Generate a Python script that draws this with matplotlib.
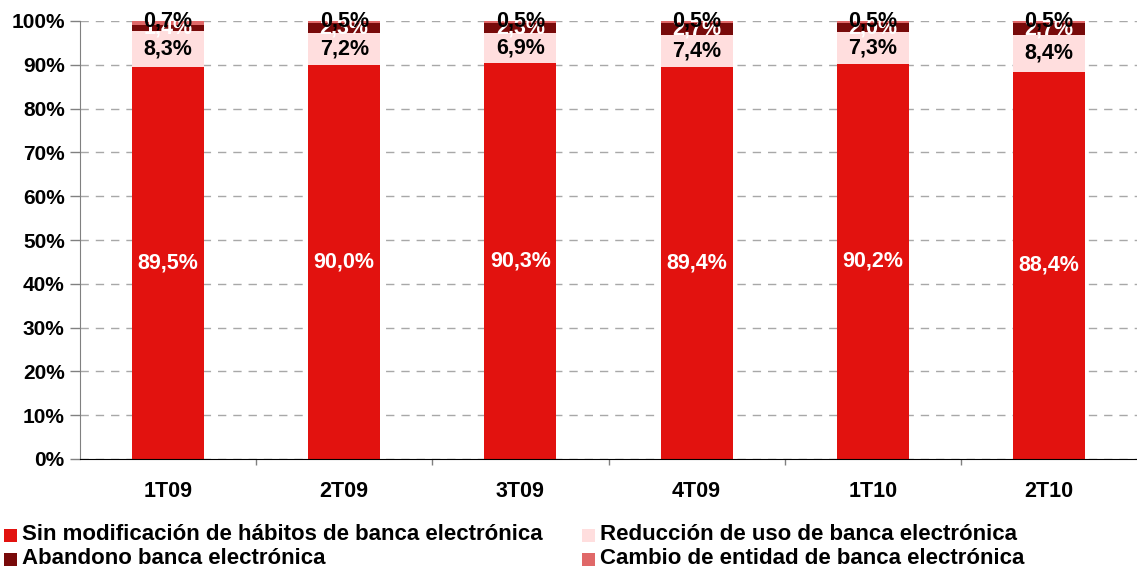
import matplotlib
matplotlib.use("Agg")
import matplotlib.pyplot as plt
from matplotlib.patches import Rectangle
import numpy as np

plt.rcParams['font.family'] = ['Liberation Sans', 'DejaVu Sans']
plt.rcParams['font.weight'] = 'bold'

# Quarterly survey periods
periods = ["1T09", "2T09", "3T09", "4T09", "1T10", "2T10"]

# Share of respondents (%) per behaviour, stacked bottom to top
sin_modificacion = [89.5, 90.0, 90.3, 89.4, 90.2, 88.4]
reduccion_uso = [8.3, 7.2, 6.9, 7.4, 7.3, 8.4]
abandono = [1.4, 2.3, 2.3, 2.7, 2.0, 2.7]
cambio_entidad = [0.7, 0.5, 0.5, 0.5, 0.5, 0.5]

series_names = [
    "Sin modificación de hábitos de banca electrónica",
    "Reducción de uso de banca electrónica",
    "Abandono banca electrónica",
    "Cambio de entidad de banca electrónica",
]
series_colors = ["#E2120F", "#FFDEDE", "#780A0A", "#E06868"]
label_colors = ["white", "black", "white", "black"]

W, H = 1137, 569
fig = plt.figure(figsize=(W / 100, H / 100), dpi=100)
ax = fig.add_axes([80 / W, (H - 459) / H, 1057 / W, 438 / H])

x = np.arange(len(periods))
series = [sin_modificacion, reduccion_uso, abandono, cambio_entidad]
bottom = np.zeros(len(periods))
bar_w = 72 / 176.25
containers = []
for vals, col in zip(series, series_colors):
    vals = np.array(vals)
    bc = ax.bar(x, vals, bar_w, bottom=bottom, color=col, zorder=3,
                linewidth=0)
    containers.append((bc, vals, bottom.copy()))
    bottom = bottom + vals

fmt = lambda v: f"{v:.1f}%".replace(".", ",")
fs = 15.5
# labels: first three centred in their segments, the thin top one at the 100% line
for i, (bc, vals, bot) in enumerate(containers[:3]):
    for xi, v, b in zip(x, vals, bot):
        ax.text(xi, b + v / 2, fmt(v), ha="center", va="center",
                color=label_colors[i], fontsize=fs, fontweight="bold", zorder=5)
bc, vals, bot = containers[3]
for xi, v, b in zip(x, vals, bot):
    ax.text(xi, b + v, fmt(v), ha="center", va="center",
            color="black", fontsize=fs, fontweight="bold", zorder=6)

ax.set_xlim(-0.5, len(periods) - 0.5)
ax.set_ylim(0, 100)
ax.set_yticks(np.arange(0, 101, 10))
ax.set_yticklabels([f"{v}%" for v in range(0, 101, 10)], fontsize=15,
                   fontweight="bold")
ax.yaxis.grid(True, color="#A8A8A8", linestyle=(0, (6, 5)), linewidth=1,
              zorder=1)
ax.tick_params(axis="y", direction="out", length=7, width=1, color="#808080",
               pad=4)

# category boundaries carry the ticks, category centres carry the labels
ax.set_xticks(np.arange(0.5, len(periods) - 0.5, 1))
ax.set_xticklabels([])
ax.set_xticks(x, minor=True)
ax.set_xticklabels(periods, minor=True, fontsize=fs, fontweight="bold")
ax.tick_params(axis="x", which="major", direction="out", length=4.5, width=1,
               color="#808080")
ax.tick_params(axis="x", which="minor", length=0, pad=16)

for s in ["top", "right"]:
    ax.spines[s].set_visible(False)
ax.spines["left"].set_color("#808080")
ax.spines["bottom"].set_color("black")
ax.spines["bottom"].set_zorder(4)

# legend in two columns below the plot
leg_pos = [(4, 535), (582, 535), (4, 559), (582, 559)]
for name, col, (px, py) in zip(series_names, series_colors, leg_pos):
    sq = 13
    fig.add_artist(Rectangle((px / W, (H - py - sq / 2) / H), sq / W, sq / H,
                             transform=fig.transFigure, color=col,
                             linewidth=0))
    fig.text((px + 18) / W, (H - py) / H, name, ha="left", va="center",
             fontsize=16, fontweight="bold", color="black")

fig.savefig("out.png", dpi=100)
